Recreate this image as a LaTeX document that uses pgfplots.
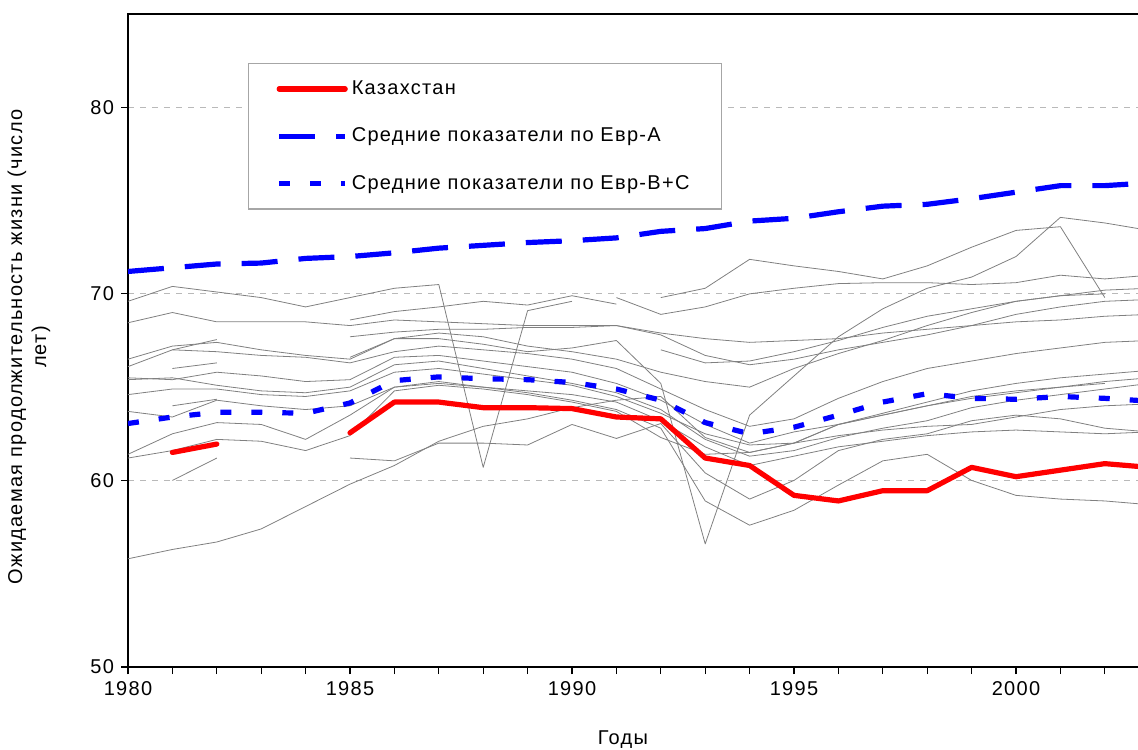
\documentclass[border=0pt]{standalone}
\usepackage{fontspec}
\setmainfont[LetterSpace=6.5]{Liberation Sans}
\usepackage{pgfplots}
\pgfplotsset{compat=1.18}
\begin{document}
\begin{tikzpicture}
\begin{axis}[
  scale only axis,
  width=510.6pt, height=326.5pt,
  xmin=1980, xmax=2003, ymin=50, ymax=85,
  xtick={1980,1985,1990,1995,2000},
  minor xtick={1980,...,2003},
  ytick={50,60,70,80},
  tick align=outside,
  major tick length=3.5pt, minor tick length=3.5pt,
  xtick pos=lower, ytick pos=left,
  tick style={black, line width=0.6pt},
  ymajorgrids, grid style={dashed, gray!55, line width=0.5pt},
  axis line style={black, line width=0.7pt},
  /pgf/number format/assume math mode=true,
  /pgf/number format/set thousands separator={},
  ticklabel style={font=\fontsize{10}{12}\selectfont},
  label style={font=\fontsize{10}{12}\selectfont},
  xlabel={Годы},
  xlabel style={at={(axis description cs:0.4847,-0.1118)}, anchor=center},
  ylabel={Ожидаемая продолжительность жизни (число\\лет)},
  ylabel style={at={(axis description cs:-0.097,0.49)}, anchor=center, align=center},
  unbounded coords=jump,
  legend style={at={(rel axis cs:0.1175,0.925)}, anchor=north west, draw=gray!70, line width=0.6pt,
    font=\fontsize{10}{12}\selectfont, row sep=11.2pt, inner xsep=14pt, inner ysep=6.5pt, cells={anchor=west}},
  legend cell align=left,
  legend image code/.code={\draw[#1] (0pt,0pt) -- (33pt,0pt);},
  every axis plot/.append style={line join=round},
]
\coordinate (O) at (rel axis cs:0,0);
\pgfplotsset{cycle list={{gray, line width=0.55pt}}}
% gray country lines
\addplot+[no marks, forget plot] coordinates {(1980,69.6)(1981,70.4)(1982,70.1)(1983,69.8)(1984,69.3)(1985,69.8)(1986,70.3)(1987,70.5)(1988,60.7)(1989,69.1)(1990,69.6)};
\addplot+[no marks, forget plot] coordinates {(1980,68.45)(1981,69.0)(1982,68.5)(1983,68.5)(1984,68.5)(1985,68.3)(1986,68.6)(1987,68.5)(1988,68.4)(1989,68.3)(1990,68.3)(1991,68.3)(1992,67.9)(1993,67.6)(1994,67.4)(1995,67.5)(1996,67.6)(1997,67.9)(1998,68.1)(1999,68.3)(2000,68.5)(2001,68.6)(2002,68.8)(2003,68.9)};
\addplot+[no marks, forget plot] coordinates {(1985,68.6)(1986,69.05)(1987,69.3)(1988,69.6)(1989,69.4)(1990,69.9)(1991,69.45)};
\addplot+[no marks, forget plot] coordinates {(1991,69.8)(1992,68.9)(1993,69.3)(1994,70.0)(1995,70.3)(1996,70.55)(1997,70.6)(1998,70.6)(1999,70.5)(2000,70.6)(2001,71.0)(2002,70.8)(2003,71.0)};
\addplot+[no marks, forget plot] coordinates {(1992,69.8)(1993,70.3)(1994,71.85)(1995,71.5)(1996,71.2)(1997,70.8)(1998,71.5)(1999,72.5)(2000,73.4)(2001,73.6)(2002,69.8)};
\addplot+[no marks, forget plot] coordinates {(1985,66.6)(1986,67.6)(1987,67.6)(1988,67.3)(1989,66.9)(1990,67.1)(1991,67.5)(1992,65.2)(1993,56.6)(1994,63.5)(1995,65.6)(1996,67.7)(1997,69.2)(1998,70.3)(1999,70.9)(2000,72.0)(2001,74.1)(2002,73.8)(2003,73.4)};
\addplot+[no marks, forget plot] coordinates {(1980,55.8)(1981,56.3)(1982,56.7)(1983,57.4)(1984,58.6)(1985,59.8)(1986,60.8)(1987,62.1)(1988,62.9)(1989,63.3)(1990,63.9)(1991,64.3)(1992,64.5)(1993,62.3)(1994,61.5)(1995,62.0)(1996,63.0)(1997,63.6)(1998,64.2)(1999,64.8)(2000,65.2)(2001,65.5)(2002,65.7)(2003,65.9)};
\addplot+[no marks, forget plot] coordinates {(1985,61.2)(1986,61.05)(1987,62.0)(1988,62.0)(1989,61.9)(1990,63.0)(1991,62.25)(1992,63.05)(1993,60.4)(1994,59.0)(1995,60.0)(1996,61.6)(1997,62.2)(1998,62.5)(1999,63.2)(2000,63.5)(2001,63.3)(2002,62.8)(2003,62.6)};
\addplot+[no marks, forget plot] coordinates {(1980,61.4)(1981,62.5)(1982,63.1)(1983,63.0)(1984,62.2)(1985,63.5)(1986,65.0)(1987,65.3)(1988,65.0)(1989,64.7)(1990,64.3)(1991,63.8)(1992,62.8)(1993,58.9)(1994,57.6)(1995,58.4)(1996,59.75)(1997,61.05)(1998,61.4)(1999,60.0)(2000,59.2)(2001,59.0)(2002,58.9)(2003,58.7)};
\addplot+[no marks, forget plot] coordinates {(1980,66.5)(1981,67.2)(1982,67.4)(1983,67.0)(1984,66.7)(1985,66.5)(1986,67.6)(1987,67.9)(1988,67.7)(1989,67.2)(1990,66.9)(1991,66.5)(1992,65.8)(1993,65.3)(1994,65.0)(1995,66.0)(1996,66.8)(1997,67.5)(1998,68.3)(1999,69.0)(2000,69.6)(2001,69.9)(2002,70.2)(2003,70.3)};
\addplot+[no marks, forget plot] coordinates {(1980,66.1)(1981,67.0)(1982,66.9)(1983,66.7)(1984,66.6)(1985,66.3)(1986,66.9)(1987,67.2)(1988,67.0)(1989,66.8)(1990,66.5)(1991,66.0)(1992,64.9)(1993,63.8)(1994,62.9)(1995,63.3)(1996,64.4)(1997,65.3)(1998,66.0)(1999,66.4)(2000,66.8)(2001,67.1)(2002,67.4)(2003,67.5)};
\addplot+[no marks, forget plot] coordinates {(1980,65.5)(1981,65.4)(1982,65.8)(1983,65.6)(1984,65.3)(1985,65.4)(1986,66.6)(1987,66.7)(1988,66.4)(1989,66.1)(1990,65.8)(1991,65.2)(1992,64.3)(1993,63.0)(1994,62.0)(1995,62.6)(1996,63.0)(1997,63.5)(1998,64.0)(1999,64.4)(2000,64.7)(2001,65.0)(2002,65.3)(2003,65.5)};
\addplot+[no marks, forget plot] coordinates {(1980,65.4)(1981,65.5)(1982,65.1)(1983,64.8)(1984,64.7)(1985,65.0)(1986,66.2)(1987,66.4)(1988,66.0)(1989,65.6)(1990,65.2)(1991,64.7)(1992,63.8)(1993,62.2)(1994,61.3)(1995,61.6)(1996,62.3)(1997,62.8)(1998,63.2)(1999,63.9)(2000,64.3)(2001,64.6)(2002,64.9)(2003,65.2)};
\addplot+[no marks, forget plot] coordinates {(1980,64.6)(1981,64.9)(1982,64.9)(1983,64.6)(1984,64.5)(1985,64.8)(1986,65.8)(1987,66.0)(1988,65.7)(1989,65.4)(1990,65.1)(1991,64.5)(1992,63.6)(1993,62.5)(1994,61.9)(1995,62.0)(1996,62.4)(1997,62.7)(1998,62.9)(1999,63.0)(2000,63.4)(2001,63.8)(2002,64.0)(2003,64.1)};
\addplot+[no marks, forget plot] coordinates {(1980,63.7)(1981,63.4)(1982,64.3)(1983,64.0)(1984,63.8)(1985,64.0)(1986,65.0)(1987,65.2)(1988,65.0)(1989,64.8)(1990,64.6)(1991,64.2)(1992,63.2)(1993,61.8)(1994,60.8)(1995,61.3)(1996,61.8)(1997,62.1)(1998,62.4)(1999,62.6)(2000,62.7)(2001,62.6)(2002,62.5)(2003,62.6)};
\addplot+[no marks, forget plot] coordinates {(1980,61.2)(1981,61.6)(1982,62.2)(1983,62.1)(1984,61.6)(1985,62.4)(1986,64.8)(1987,65.1)(1988,64.9)(1989,64.6)(1990,64.2)(1991,63.7)(1992,62.3)(1993,61.4)(1994,61.5)(1995,62.0)(1996,63.0)(1997,63.5)(1998,64.0)(1999,64.5)(2000,64.8)(2001,65.0)(2002,65.2)};
\addplot+[no marks, forget plot] coordinates {(1981,60.0)(1982,61.2)};
\addplot+[no marks, forget plot] coordinates {(1981,66.0)(1982,66.3)};
\addplot+[no marks, forget plot] coordinates {(1981,67.0)(1982,67.55)};
\addplot+[no marks, forget plot] coordinates {(1981,64.0)(1982,64.35)};
\addplot+[no marks, forget plot] coordinates {(1985,67.7)(1986,67.95)(1987,68.1)(1988,68.1)(1989,68.2)(1990,68.2)(1991,68.3)(1992,67.8)(1993,66.7)(1994,66.2)(1995,66.5)(1996,67.0)(1997,67.4)(1998,67.8)(1999,68.3)(2000,68.9)(2001,69.3)(2002,69.6)(2003,69.7)};
\addplot+[no marks, forget plot] coordinates {(1992,67.0)(1993,66.3)(1994,66.4)(1995,66.9)(1996,67.5)(1997,68.2)(1998,68.8)(1999,69.2)(2000,69.6)(2001,69.9)(2002,70.0)};
% highlighted series
\addplot[red, line width=2.6pt, line cap=round, line join=round] coordinates {(1981,61.5)(1982,61.95)(1983,nan)(1985,62.55)(1986,64.2)(1987,64.2)(1988,63.9)(1989,63.9)(1990,63.85)(1991,63.4)(1992,63.3)(1993,61.2)(1994,60.8)(1995,59.2)(1996,58.9)(1997,59.45)(1998,59.45)(1999,60.7)(2000,60.2)(2001,60.55)(2002,60.9)(2003,60.7)};
\addlegendentry{Казахстан}
\addplot[blue, line width=2.6pt, dash pattern=on 18pt off 10.5pt] coordinates {(1980,71.2)(1981,71.4)(1982,71.6)(1983,71.65)(1984,71.9)(1985,72.0)(1986,72.2)(1987,72.45)(1988,72.6)(1989,72.75)(1990,72.85)(1991,73.0)(1992,73.35)(1993,73.5)(1994,73.9)(1995,74.05)(1996,74.4)(1997,74.7)(1998,74.8)(1999,75.1)(2000,75.45)(2001,75.8)(2002,75.8)(2003,75.95)};
\addlegendentry{Средние показатели по Евр-A}
\addplot[blue, line width=2.6pt, dash pattern=on 5.5pt off 10pt] coordinates {(1980,63.05)(1981,63.4)(1982,63.65)(1983,63.65)(1984,63.6)(1985,64.15)(1986,65.35)(1987,65.55)(1988,65.45)(1989,65.4)(1990,65.25)(1991,64.9)(1992,64.3)(1993,63.1)(1994,62.5)(1995,62.85)(1996,63.5)(1997,64.2)(1998,64.65)(1999,64.4)(2000,64.35)(2001,64.5)(2002,64.4)(2003,64.25)};
\addlegendentry{Средние показатели по Евр-B+C}
\end{axis}
\pgfresetboundingbox
\useasboundingbox (O) ++(-64pt,-41pt) rectangle ++(569pt,374.5pt);
\end{tikzpicture}
\end{document}
